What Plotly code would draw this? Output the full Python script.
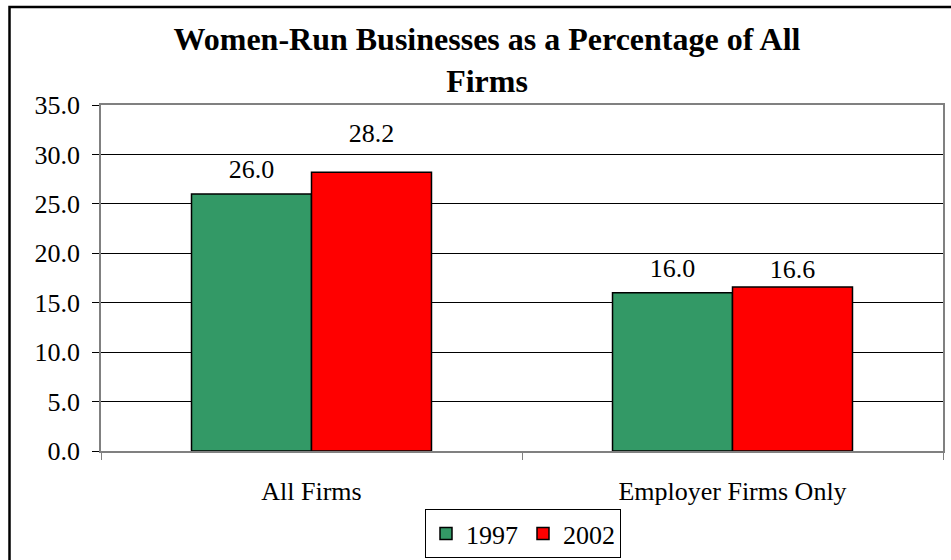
import plotly.graph_objects as go

# Chart data
categories = ["All Firms", "Employer Firms Only"]
years = ["1997", "2002"]
share_1997 = [26.0, 16.0]
share_2002 = [28.2, 16.6]
bar_colors = ["#339966", "#FF0000"]

W, H = 951, 560
L, R, T, B = 101, 8, 105, 109
plot_w = W - L - R
plot_h = H - T - B
FONT = "Liberation Serif, serif"
FS = 26

fig = go.Figure()
series = [share_1997, share_2002]
for name, vals, col in zip(years, series, bar_colors):
    fig.add_trace(go.Bar(
        x=categories, y=vals, name=name,
        marker=dict(color=col, line=dict(color="black", width=1.5)),
    ))

# Value labels, grouped the same way as the bars and lifted above the bar tops
# (an invisible marker sets how far each label sits above its bar)
label_lift = [[14, 14], [36, 2]]
for vals, lift in zip(series, label_lift):
    fig.add_trace(go.Scatter(
        x=categories, y=vals, mode="markers+text",
        text=[f"{v:.1f}" for v in vals], textposition="top center",
        textfont=dict(family=FONT, size=FS, color="black"),
        marker=dict(size=lift, opacity=0),
        showlegend=False, hoverinfo="skip", cliponaxis=False,
    ))


def px_x(px):
    return (px - L) / plot_w


def px_y(py):
    return (H - B - py) / plot_h


fig.update_layout(
    width=W, height=H,
    margin=dict(l=L, r=R, t=T, b=B, autoexpand=False),
    paper_bgcolor="white", plot_bgcolor="white",
    barmode="group", bargap=0.43, bargroupgap=0,
    scattermode="group", scattergap=0.43,
    font=dict(family=FONT, size=FS, color="black"),
    title=dict(
        text="Women-Run Businesses as a Percentage of All<br>Firms",
        font=dict(family=FONT, size=32, color="black", weight="bold"),
        xref="container", x=487 / W, xanchor="center",
        yref="container", y=1 - 50 / H, yanchor="top",
    ),
    legend=dict(
        orientation="h", x=px_x(523), xanchor="center",
        y=px_y(509), yanchor="top",
        bordercolor="black", borderwidth=1,
        font=dict(family=FONT, size=FS), itemwidth=30,
        bgcolor="white",
    ),
    showlegend=True,
    shapes=[dict(
        type="rect", xref="paper", yref="paper",
        x0=px_x(9.5), x1=px_x(W + 20), y0=px_y(7), y1=px_y(H + 20),
        line=dict(color="black", width=2.5), layer="above",
    )],
)

fig.update_yaxes(
    range=[0, 35], dtick=5, tickformat=".1f", automargin=False,
    showgrid=True, gridcolor="black", gridwidth=1,
    showline=True, linecolor="#808080", linewidth=1.5, mirror=True,
    ticks="outside", ticklen=7, tickcolor="black",
    tickfont=dict(family=FONT, size=FS), zeroline=False,
    ticklabelstandoff=7,
)
fig.update_xaxes(
    automargin=False,
    showline=True, linecolor="#808080", linewidth=1.5, mirror=True,
    ticks="outside", ticklen=7, tickcolor="#808080", tickson="boundaries",
    tickfont=dict(family=FONT, size=FS), ticklabelstandoff=16,
)

fig.write_html("out.html")
